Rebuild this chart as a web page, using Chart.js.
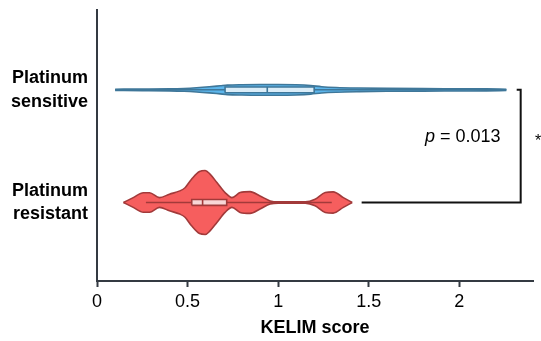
<!DOCTYPE html>
<html><head><meta charset="utf-8">
<script src="https://cdn.jsdelivr.net/npm/chart.js@4.4.0/dist/chart.umd.min.js"></script>
<style>html,body{margin:0;padding:0;background:#fff}</style>
</head><body>
<canvas id="c" width="541" height="341" style="width:541px;height:341px;display:block"></canvas>
<script>
// ---- data ----
const categories = [['Platinum', 'sensitive'], ['Platinum', 'resistant']];
const categoryPos = [1, 0];
const xTickValues = [0, 0.5, 1, 1.5, 2];
const xTitle = 'KELIM score';

// violin outline: x positions and half-widths (density, in y units)
const sensX    = [0.10, 0.25, 0.40, 0.48, 0.55, 0.62, 0.68, 0.72, 0.80, 0.90, 1.00, 1.10, 1.18, 1.24, 1.32, 1.45, 1.60, 1.80, 2.00, 2.15, 2.26];
const sensHalf = [0.006, 0.007, 0.009, 0.0125, 0.0185, 0.027, 0.036, 0.042, 0.046, 0.048, 0.048, 0.045, 0.038, 0.028, 0.021, 0.016, 0.013, 0.011, 0.010, 0.009, 0.006];
const resX     = [0.146, 0.20, 0.256, 0.29, 0.345, 0.40, 0.457, 0.486, 0.522, 0.566, 0.597, 0.624, 0.662, 0.707, 0.745, 0.79, 0.845, 0.90, 0.956, 1.00, 1.15, 1.204, 1.26, 1.304, 1.36, 1.409];
const resHalf  = [0, 0.0435, 0.087, 0.087, 0.0435, 0.0737, 0.103, 0.131, 0.207, 0.276, 0.284, 0.252, 0.177, 0.088, 0.0435, 0.088, 0.0968, 0.0577, 0.0142, 0.0053, 0.0053, 0.0293, 0.088, 0.094, 0.0435, 0];

// box plot stats [q1, median, q3] and whiskers [low, high]
const sensBox = [0.707, 0.94, 1.199];
const sensWhisker = [0.10, 2.26];
const resBox = [0.523, 0.583, 0.716];
const resWhisker = [0.27, 1.296];

const pLabel = 'p';
const pValue = '0.013';
const sigMark = '*';

// ---- styling ----
const FONT = '"Liberation Sans", Arial, Helvetica, sans-serif';
const AXIS = '#343a42';
const BLUE = {fill: '#5cb6ec', line: '#3f7799', box: '#dbedf8'};
const RED  = {fill: '#f65e5e', line: '#a23a3a', box: '#f8d6d6'};
const BOX_H = 0.026;

function line(points, color, width, order, extra) {
  return Object.assign({
    type: 'scatter', data: points, showLine: true, borderColor: color, borderWidth: width,
    pointRadius: 0, pointHoverRadius: 0, fill: false, tension: 0, order: order
  }, extra || {});
}

function violinSets(xs, hs, c, col, whisker, box) {
  const upper = xs.map((x, i) => ({x: x, y: c + hs[i]}));
  const lower = xs.map((x, i) => ({x: x, y: c - hs[i]}));
  return [
    line(upper, col.line, 1.6, 10, {fill: {target: '+1'}, backgroundColor: col.fill, cubicInterpolationMode: 'monotone'}),
    line(lower, col.line, 1.6, 9, {cubicInterpolationMode: 'monotone'}),
    line([{x: whisker[0], y: c}, {x: whisker[1], y: c}], col.line, 1.5, 8),
    line([{x: box[0], y: c - BOX_H}, {x: box[2], y: c - BOX_H}, {x: box[2], y: c + BOX_H}, {x: box[0], y: c + BOX_H}, {x: box[0], y: c - BOX_H}],
         col.line, 1.6, 7, {fill: 'shape', backgroundColor: col.box}),
    line([{x: box[1], y: c - BOX_H}, {x: box[1], y: c + BOX_H}], col.line, 1.6, 6)
  ];
}

const datasets = [].concat(
  violinSets(sensX, sensHalf, categoryPos[0], BLUE, sensWhisker, sensBox),
  violinSets(resX, resHalf, categoryPos[1], RED, resWhisker, resBox),
  [line([{x: 2.317, y: 1}, {x: 2.339, y: 1}, {x: 2.339, y: 0}, {x: 1.461, y: 0}], '#111', 2, 1)]
);

const annot = {
  id: 'annot',
  afterDraw(chart) {
    const {ctx, scales: {x, y}} = chart;
    ctx.save();
    ctx.fillStyle = '#000';
    ctx.textBaseline = 'alphabetic';
    const px = x.getPixelForValue(1.8105), py = y.getPixelForValue(0.5364);
    ctx.font = 'italic 18px ' + FONT;
    ctx.fillText(pLabel, px, py);
    const w = ctx.measureText(pLabel).width;
    ctx.font = '18px ' + FONT;
    ctx.fillText(' = ' + pValue, px + w, py);
    ctx.font = '16px ' + FONT;
    ctx.textAlign = 'center';
    ctx.fillText(sigMark, x.getPixelForValue(2.435), y.getPixelForValue(0.50));
    ctx.restore();
  }
};

function noPad(s) { s.paddingTop = 0; s.paddingBottom = 0; s.paddingLeft = 0; s.paddingRight = 0; }

new Chart(document.getElementById('c'), {
  type: 'scatter',
  data: {datasets},
  plugins: [annot],
  options: {
    responsive: false, animation: false, devicePixelRatio: 1,
    layout: {padding: {left: 0, right: 8, top: 10, bottom: 0}},
    plugins: {legend: {display: false}, tooltip: {enabled: false}},
    scales: {
      x: {
        type: 'linear', min: 0, max: 2.407,
        afterBuildTicks: s => { s.ticks = xTickValues.map(v => ({value: v})); },
        afterFit: s => { s.height = 60; noPad(s); },
        ticks: {font: {family: FONT, size: 18}, color: '#000', padding: 4, maxRotation: 0, autoSkip: false,
                callback: v => String(v)},
        grid: {display: true, drawOnChartArea: false, drawTicks: true, tickLength: 6, tickColor: AXIS, tickWidth: 2},
        border: {display: true, color: AXIS, width: 2},
        title: {display: true, text: xTitle, color: '#000', font: {family: FONT, size: 18, weight: 'bold'}, padding: {top: 2, bottom: 2}}
      },
      y: {
        type: 'linear', min: -0.697, max: 1.709,
        afterBuildTicks: s => { s.ticks = categoryPos.map(v => ({value: v})); },
        afterFit: s => { s.width = 97; noPad(s); },
        ticks: {font: {family: FONT, size: 18, weight: 'bold', lineHeight: 1.3}, color: '#000', padding: 9,
                callback: v => categories[categoryPos.indexOf(v)]},
        grid: {display: false, drawTicks: false},
        border: {display: true, color: AXIS, width: 2}
      }
    }
  }
});
</script>
</body></html>
